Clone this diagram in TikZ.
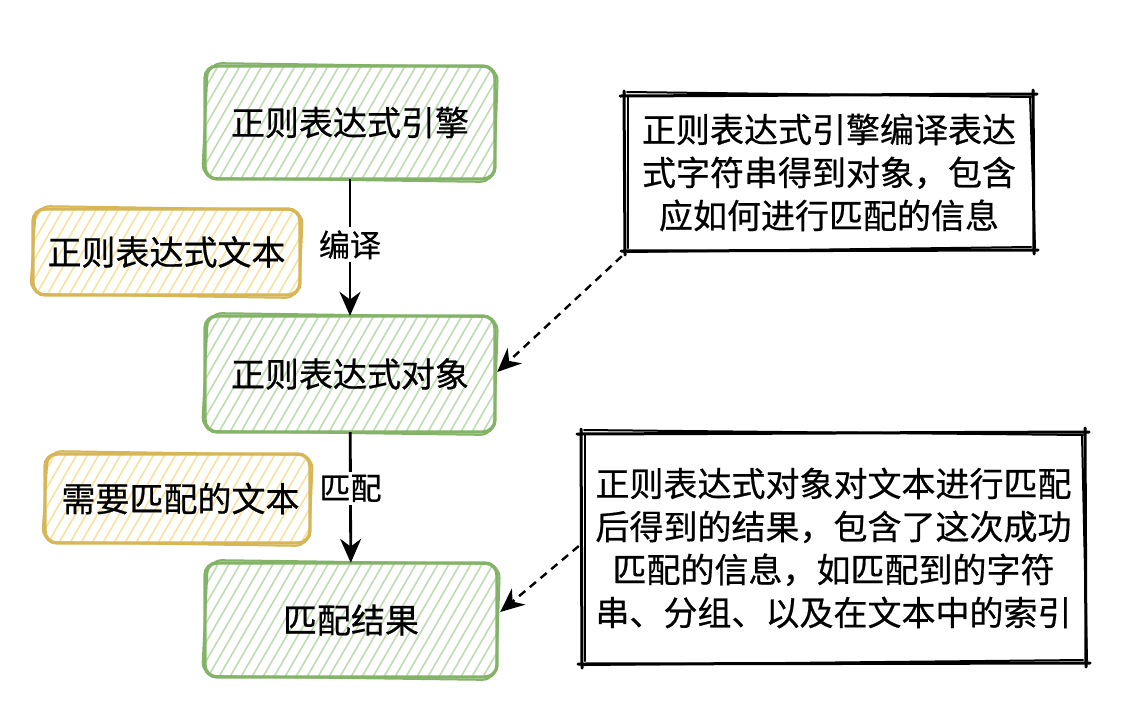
\documentclass[tikz,border=0pt]{standalone}
\usepackage{fontspec}
\newfontfamily\cjk[FakeBold=0.6]{Noto Sans CJK SC}
\usetikzlibrary{arrows.meta,calc}
\definecolor{gstroke}{RGB}{130,179,102}
\definecolor{ghatch}{RGB}{190,220,178}
\definecolor{ystroke}{RGB}{214,182,86}
\definecolor{yhatch}{RGB}{247,226,160}
\tikzset{
  txt/.style={font=\cjk\fontsize{34}{43}\selectfont, text=black, align=center, inner sep=0pt},
  lbl/.style={font=\cjk\fontsize{31}{34}\selectfont, text=black, fill=white, inner sep=3pt},
  arr/.style={draw=black, line width=2.8pt, -{Stealth[length=24pt,width=21pt]}},
  darr/.style={draw=black, line width=2.4pt, dash pattern=on 8pt off 6pt, -{Stealth[length=24pt,width=21pt]}},
  hatchline/.style={line width=1.6pt},
  notestroke/.style={draw=black, line width=3pt, line cap=round},
}
% name, x1, y1, x2, y2, stroke, hatch, text
\newcommand\sketchbox[8]{%
  \begin{scope}
    \clip[rounded corners=10pt] (#2,#3) rectangle (#4,#5);
    \foreach \k in {-110,-99,...,320} {\draw[hatchline,#7] ({#2+\k},{#5+5}) -- ++(90,-156);}
  \end{scope}
  \draw[#6, line width=3.4pt, rounded corners=12pt] (#2,#3) rectangle (#4,#5);
  \draw[#6, line width=2pt, rounded corners=14pt, line cap=round]
    ({#2+3},{#3-3}) -- ({#4+3},{#3+1}) -- ({#4-1},{#5+3}) -- ({#2-3},{#5-1}) -- cycle;
  \node[txt, minimum width={#4pt-#2pt}, minimum height={#5pt-#3pt}] (#1) at ({(#2+#4)/2},{(#3+#5)/2}) {#8};
}
% name, x1, y1, x2, y2, text
\newcommand\notebox[6]{%
  \fill[white] (#2,#3) rectangle (#4,#5);
  \draw[notestroke] ({#2-5},{#3+1}) -- ({#4+4},{#3-1});
  \draw[notestroke, line width=2pt] ({#2+2},{#3-3}) -- ({#4-2},{#3+2});
  \draw[notestroke] ({#4},{#3-5}) -- ({#4+1},{#5+4});
  \draw[notestroke, line width=2pt] ({#4-3},{#3+2}) -- ({#4+2},{#5-2});
  \draw[notestroke] ({#4+5},{#5}) -- ({#2-4},{#5+1});
  \draw[notestroke, line width=2pt] ({#4-2},{#5-3}) -- ({#2+2},{#5+2});
  \draw[notestroke] ({#2},{#5+5}) -- ({#2-1},{#3-4});
  \draw[notestroke, line width=2pt] ({#2+3},{#5-2}) -- ({#2+3},{#3+2});
  \node[txt, minimum width={#4pt-#2pt}, minimum height={#5pt-#3pt}] (#1) at ({(#2+#4)/2},{(#3+#5)/2}) {#6};
}
\begin{document}
\begin{tikzpicture}[x=1pt,y=-1pt]
\useasboundingbox (0,0) rectangle (1134,716);

\sketchbox{engine}{205}{66}{495}{179}{gstroke}{ghatch}{正则表达式引擎}
\sketchbox{regtext}{33}{209}{300}{295}{ystroke}{yhatch}{正则表达式文本}
\sketchbox{obj}{205}{316}{495}{432}{gstroke}{ghatch}{正则表达式对象}
\sketchbox{matchtext}{45}{454}{310}{543}{ystroke}{yhatch}{\hspace*{6pt}需要匹配的文本}
\sketchbox{result}{205}{563}{497}{677}{gstroke}{ghatch}{匹配结果}

\notebox{note1}{625}{95}{1033}{250}{正则表达式引擎编译表达\\式字符串得到对象，包含\\应如何进行匹配的信息}
\notebox{note2}{582}{433}{1085}{663}{正则表达式对象对文本进行匹配\\后得到的结果，包含了这次成功\\匹配的信息，如匹配到的字符\\串、分组、以及在文本中的索引}

\draw[arr] (engine) -- (obj) node[lbl, pos=0.48] {编译};
\draw[arr] (obj) -- (result) node[lbl, pos=0.43] {匹配};

\draw[darr] ($(note1.south west)+(-3,6)$) -- ($(obj.east)+(2,-2)$);
\draw[darr] ($(note2.west)+(-3,-2)$) -- ($(result.east)+(3,-8)$);
\end{tikzpicture}
\end{document}
